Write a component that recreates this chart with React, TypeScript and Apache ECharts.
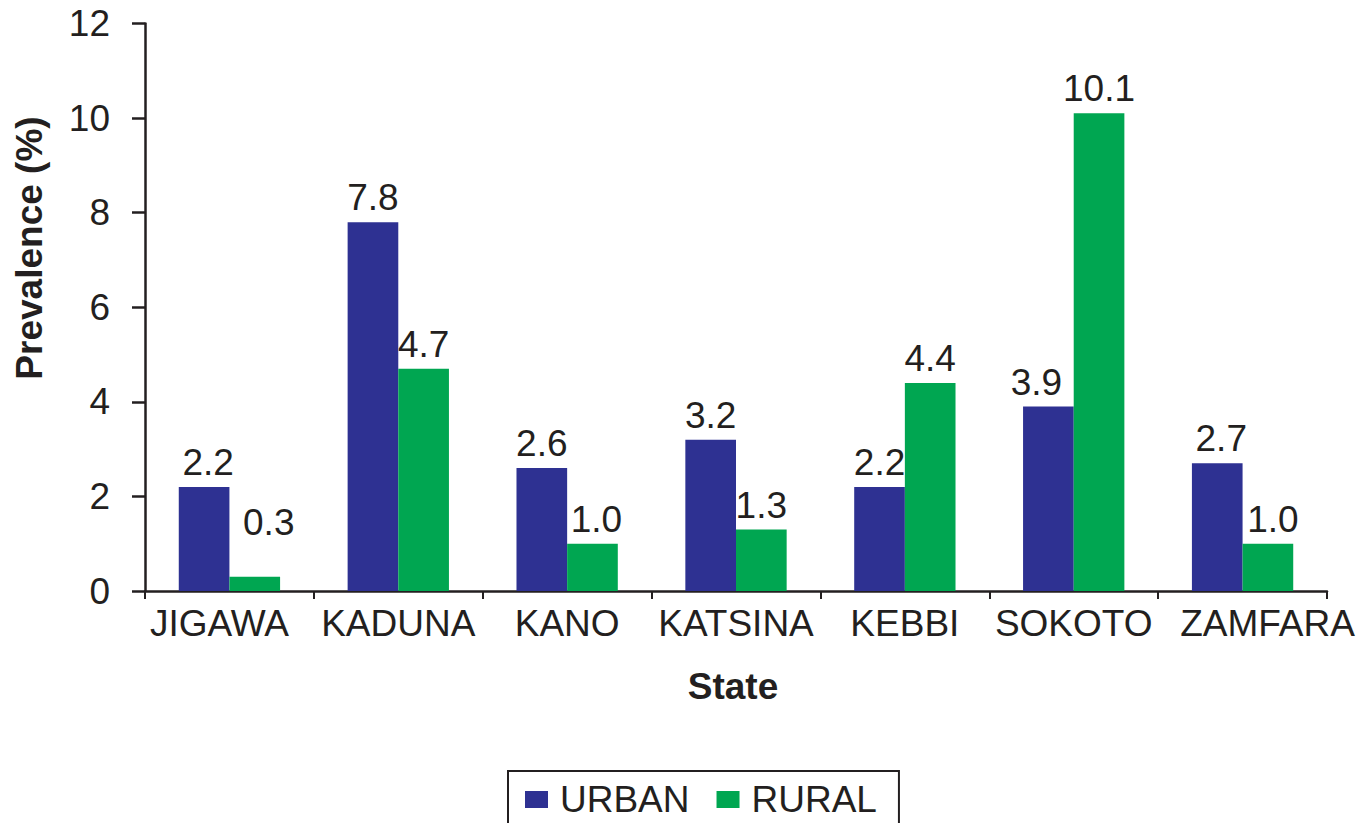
import React, { useEffect, useRef } from "react";
import * as echarts from "echarts";

const categories = ["JIGAWA", "KADUNA", "KANO", "KATSINA", "KEBBI", "SOKOTO", "ZAMFARA"];
const urban = [2.2, 7.8, 2.6, 3.2, 2.2, 3.9, 2.7];
const rural = [0.3, 4.7, 1.0, 1.3, 4.4, 10.1, 1.0];
const yTicks = { min: 0, max: 12, interval: 2 };
const urbanLabelOffsets: number[][] = [[4, 0], [0, 0], [0, 0], [0, 0], [0, 0], [-12, 0], [4, 0]];
const ruralLabelOffsets: number[][] = [[14, -30], [0, 0], [4, 0], [0, 0], [0, 0], [0, 0], [5, 0]];

const FONT = '"Liberation Sans", Arial, Helvetica, sans-serif';
const TEXT = "#231F20";
const BLUE = "#2E3192";
const GREEN = "#00A651";

export default function App() {
  const ref = useRef<HTMLDivElement>(null);
  useEffect(() => {
    if (!ref.current) return;
    const chart = echarts.init(ref.current, undefined, { renderer: "svg" });
    const labelBase = {
      show: true,
      position: "top",
      distance: 6,
      fontSize: 37,
      lineHeight: 37,
      fontFamily: FONT,
      color: TEXT,
      formatter: (p: any) => Number(p.value).toFixed(1),
    };
    const catData = categories.map((c) => {
      if (c === "ZAMFARA") return { value: c, textStyle: { padding: [0, 0, 0, 50] } };
      if (c === "JIGAWA") return { value: c, textStyle: { padding: [0, 20, 0, 0] } };
      return c;
    });
    chart.setOption({
      animation: false,
      backgroundColor: "#ffffff",
      textStyle: { fontFamily: FONT },
      grid: { left: 145, right: 35, top: 23.5, bottom: 269, containLabel: false },
      legend: {
        left: 508,
        top: 771,
        orient: "horizontal",
        padding: [10, 22, 30, 17],
        borderColor: TEXT,
        borderWidth: 2,
        itemWidth: 23,
        itemHeight: 17,
        itemGap: 27,
        icon: "rect",
        textStyle: { fontSize: 37, lineHeight: 37, color: TEXT, fontFamily: FONT, padding: [0, 0, 0, 7] },
        data: ["URBAN", "RURAL"],
      },
      xAxis: {
        type: "category",
        data: catData,
        axisLine: { show: true, lineStyle: { color: TEXT, width: 2.5 } },
        axisTick: { show: true, length: 8, lineStyle: { color: TEXT, width: 2 } },
        axisLabel: { interval: 0, fontSize: 37, lineHeight: 37, margin: 14, color: TEXT, fontFamily: FONT },
        splitLine: { show: false },
      },
      yAxis: {
        type: "value",
        min: yTicks.min,
        max: yTicks.max,
        interval: yTicks.interval,
        axisLine: { show: true, lineStyle: { color: TEXT, width: 2.5 } },
        axisTick: { show: true, length: 13, lineStyle: { color: TEXT, width: 2.5 } },
        axisLabel: { fontSize: 37, margin: 35, color: TEXT, fontFamily: FONT },
        splitLine: { show: false },
      },
      graphic: [
        {
          type: "text",
          x: 29,
          y: 248,
          rotation: Math.PI / 2,
          style: {
            text: "Prevalence (%)",
            fontSize: 37,
            fontWeight: "bold",
            fontFamily: FONT,
            fill: TEXT,
            align: "center",
            verticalAlign: "middle",
          },
        },
        {
          type: "text",
          x: 733,
          y: 686,
          style: {
            text: "State",
            fontSize: 37,
            fontWeight: "bold",
            fontFamily: FONT,
            fill: TEXT,
            align: "center",
            verticalAlign: "middle",
          },
        },
      ],
      series: [
        {
          name: "URBAN",
          type: "bar",
          barGap: "0%",
          barCategoryGap: "40%",
          itemStyle: { color: BLUE },
          label: labelBase,
          data: urban.map((v, i) => ({ value: v, label: { offset: urbanLabelOffsets[i] } })),
        },
        {
          name: "RURAL",
          type: "bar",
          barGap: "0%",
          barCategoryGap: "40%",
          itemStyle: { color: GREEN },
          label: labelBase,
          data: rural.map((v, i) => ({ value: v, label: { offset: ruralLabelOffsets[i] } })),
        },
      ],
    });
    return () => chart.dispose();
  }, []);
  return (
    <div
      ref={ref}
      style={{ position: "fixed", left: 0, top: 0, width: 1362, height: 860, background: "#fff" }}
    />
  );
}
